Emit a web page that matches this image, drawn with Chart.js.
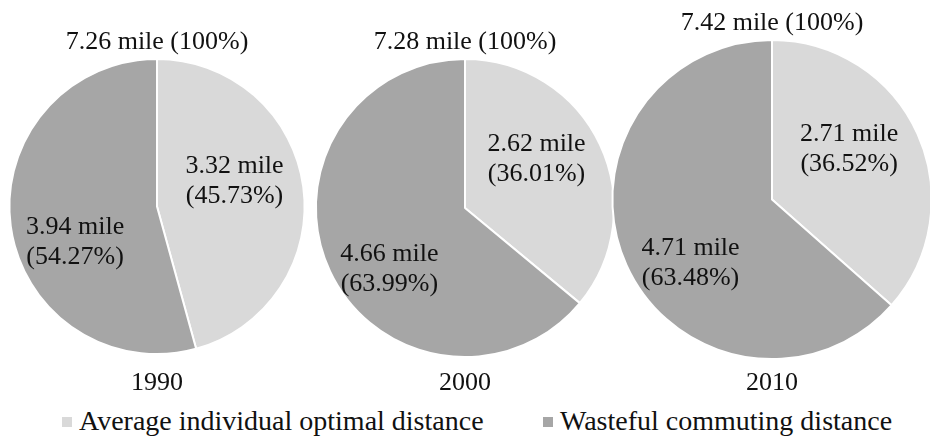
<!DOCTYPE html>
<html>
<head>
<meta charset="utf-8">
<script src="https://cdn.jsdelivr.net/npm/chart.js@4.4.1/dist/chart.umd.min.js"></script>
<style>
  html, body { margin: 0; padding: 0; background: #fff; overflow: hidden; }
  body { width: 930px; height: 437px; position: relative; font-family: "Liberation Serif", "Times New Roman", serif; }
  .pie { position: absolute; }
  #legend { position: absolute; left: 0; top: 404px; width: 930px; height: 34px; }
  .item { position: absolute; top: 0; font-size: 28px; line-height: 34px; color: #111; white-space: nowrap; }
  .box { display: inline-block; width: 10px; height: 10px; margin-right: 7px; vertical-align: 3px; }
</style>
</head>
<body>
<canvas id="pie0" class="pie"></canvas>
<canvas id="pie1" class="pie"></canvas>
<canvas id="pie2" class="pie"></canvas>
<div id="legend"></div>
<script>
const years = ['1990', '2000', '2010'];
const categories = ['Average individual optimal distance', 'Wasteful commuting distance'];
const totalMiles = [7.26, 7.28, 7.42];
const optimalMiles = [3.32, 2.62, 2.71];
const wastefulMiles = [3.94, 4.66, 4.71];
const optimalPct = [45.73, 36.01, 36.52];
const wastefulPct = [54.27, 63.99, 63.48];

const colors = ['#d9d9d9', '#a6a6a6'];
const font = '"Liberation Serif", "Times New Roman", serif';

// where each canvas sits and how much room title / year get
const boxes = [
  { left: 0,   top: 0, width: 314, height: 398, titleTop: 27, yearTop: 13 },
  { left: 308, top: 0, width: 314, height: 398, titleTop: 27, yearTop: 10 },
  { left: 607, top: 0, width: 330, height: 398, titleTop: 8,  yearTop: 8 }
];

// slice labels, pushed out along the middle angle (plus a small shift)
const sliceLabels = {
  id: 'sliceLabels',
  afterDatasetsDraw(chart, args, opts) {
    const ctx = chart.ctx;
    const meta = chart.getDatasetMeta(0);
    ctx.save();
    ctx.font = '26px ' + font;
    ctx.fillStyle = '#111';
    ctx.textAlign = 'center';
    ctx.textBaseline = 'middle';
    meta.data.forEach((arc, i) => {
      const p = arc.getProps(['x', 'y', 'startAngle', 'endAngle', 'outerRadius'], true);
      const mid = (p.startAngle + p.endAngle) / 2;
      const r = p.outerRadius * opts.factors[i];
      const x = p.x + Math.cos(mid) * r;
      const y = p.y + Math.sin(mid) * r + opts.drop[i] * p.outerRadius;
      const lines = opts.lines[i];
      ctx.fillText(lines[0], x, y - 15);
      ctx.fillText(lines[1], x, y + 15);
    });
    ctx.restore();
  }
};

function draw() {
  years.forEach((year, k) => {
    const b = boxes[k];
    const canvas = document.getElementById('pie' + k);
    canvas.style.left = b.left + 'px';
    canvas.style.top = b.top + 'px';
    canvas.style.width = b.width + 'px';
    canvas.style.height = b.height + 'px';
    canvas.width = b.width;
    canvas.height = b.height;

    new Chart(canvas.getContext('2d'), {
      type: 'pie',
      data: {
        labels: categories,
        datasets: [{
          data: [optimalPct[k], wastefulPct[k]],
          backgroundColor: colors,
          borderColor: '#ffffff',
          borderWidth: 2
        }]
      },
      options: {
        responsive: false,
        animation: false,
        layout: { padding: 0 },
        plugins: {
          legend: { display: false },
          tooltip: { enabled: false },
          title: {
            display: true,
            text: totalMiles[k].toFixed(2) + ' mile (100%)',
            color: '#111',
            font: { family: font, size: 26, weight: 'normal', lineHeight: 1.15 },
            padding: { top: b.titleTop, bottom: 1 }
          },
          subtitle: {
            display: true,
            position: 'bottom',
            text: year,
            color: '#111',
            font: { family: font, size: 26, weight: 'normal', lineHeight: 1.15 },
            padding: { top: b.yearTop, bottom: 0 }
          },
          sliceLabels: {
            factors: [0.53, 0.56],
            drop: [-0.1, 0.17],
            lines: [
              [optimalMiles[k].toFixed(2) + ' mile', '(' + optimalPct[k].toFixed(2) + '%)'],
              [wastefulMiles[k].toFixed(2) + ' mile', '(' + wastefulPct[k].toFixed(2) + '%)']
            ]
          }
        }
      },
      plugins: [sliceLabels]
    });
  });

  // legend under the three pies
  const legend = document.getElementById('legend');
  const legendLeft = [62, 543];
  categories.forEach((name, i) => {
    const item = document.createElement('div');
    item.className = 'item';
    item.style.left = legendLeft[i] + 'px';
    item.innerHTML = '<span class="box" style="background:' + colors[i] + '"></span>' + name;
    legend.appendChild(item);
  });
}

document.fonts.load('26px "Liberation Serif"').then(draw, draw);
</script>
</body>
</html>
